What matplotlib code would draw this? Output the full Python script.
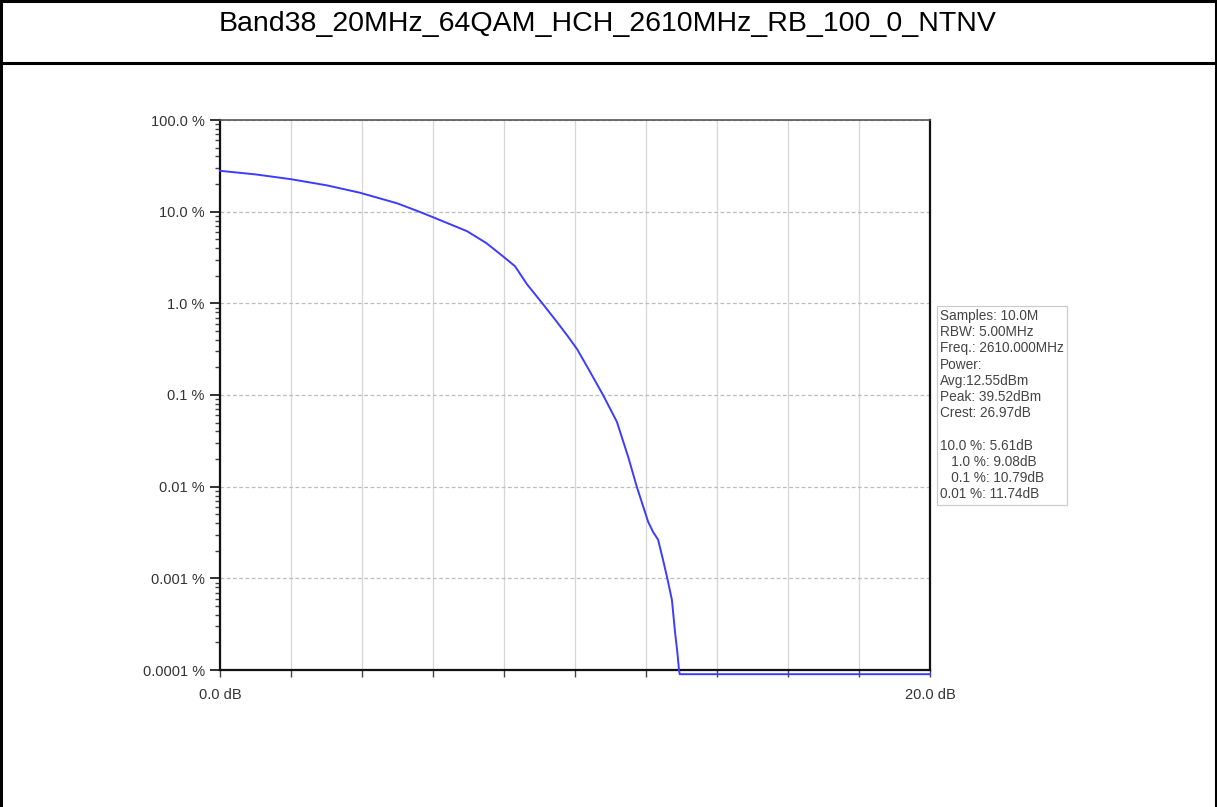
import numpy as np
import matplotlib
matplotlib.use('Agg')
import matplotlib.pyplot as plt
from matplotlib.lines import Line2D
from matplotlib.ticker import FixedLocator, LogLocator, NullFormatter

plt.rcParams['font.family'] = ['Liberation Sans', 'DejaVu Sans']

W, H = 1217, 807

TITLE = "Band38_20MHz_64QAM_HCH_2610MHz_RB_100_0_NTNV"

# CCDF curve: power above average (dB) vs probability (%)
ccdf_db = [0.0, 1.0, 2.0, 3.0, 3.94, 5.0, 5.61, 6.0, 6.96, 7.5, 7.97, 8.31,
           8.65, 9.08, 9.5, 9.8, 10.06, 10.4, 10.79, 11.18, 11.5, 11.74, 12.06,
           12.2, 12.34, 12.48, 12.6, 12.73, 12.82, 12.88, 12.93, 12.95, 20.0]
ccdf_pct = [27.9, 25.5, 22.6, 19.4, 16.1, 12.3, 10.0, 8.7, 6.12, 4.55, 3.26,
            2.54, 1.61, 1.0, 0.62, 0.436, 0.316, 0.186, 0.1, 0.051, 0.021, 0.01,
            0.00414, 0.0032, 0.00264, 0.00159, 0.001, 0.000582, 0.000254,
            0.00016, 0.0001, 0.000090, 0.000090]

y_ticks = [100.0, 10.0, 1.0, 0.1, 0.01, 0.001, 0.0001]
y_labels = ["100.0 %", "10.0 %", "1.0 %", "0.1 %", "0.01 %", "0.001 %", "0.0001 %"]
x_ticks = np.arange(0, 21, 2)
x_labels = ["0.0 dB"] + [""] * 9 + ["20.0 dB"]

info_lines = [
    "Samples: 10.0M",
    "RBW: 5.00MHz",
    "Freq.: 2610.000MHz",
    "Power:",
    "Avg:12.55dBm",
    "Peak: 39.52dBm",
    "Crest: 26.97dB",
    "",
    "10.0 %: 5.61dB",
    "   1.0 %: 9.08dB",
    "   0.1 %: 10.79dB",
    "0.01 %: 11.74dB",
]


def main():
    fig = plt.figure(figsize=(W / 100, H / 100), dpi=100)

    # table frame around the picture
    lk = dict(color='black', lw=2.2, transform=fig.transFigure)
    fig.add_artist(Line2D([1 / W, 1 / W], [0, 1], **lk))
    fig.add_artist(Line2D([1 - 1.5 / W, 1 - 1.5 / W], [0, 1], **lk))
    fig.add_artist(Line2D([0, 1], [1 - 1 / H, 1 - 1 / H], **lk))
    fig.add_artist(Line2D([0, 1], [1 - 63 / H, 1 - 63 / H], **lk))

    fig.text(608 / W, 1 - 24 / H, TITLE, ha='center', va='center',
             fontsize=20.5, color='black')

    ax = fig.add_axes([220 / W, 137 / H, 710 / W, 550 / H])
    ax.set_yscale('log')
    ax.set_xlim(0, 20)
    ax.set_ylim(1e-4, 100)

    ax.plot(ccdf_db, ccdf_pct, color='#3c3cff', lw=1.4, clip_on=False, zorder=5)

    ax.yaxis.set_major_locator(FixedLocator(y_ticks))
    ax.set_yticklabels(y_labels)
    ax.yaxis.set_minor_locator(LogLocator(base=10, subs=np.arange(2, 10)))
    ax.yaxis.set_minor_formatter(NullFormatter())
    ax.set_xticks(x_ticks)
    ax.set_xticklabels(x_labels)

    ax.tick_params(axis='y', which='major', length=7, width=1.3, colors='#222222',
                   labelsize=10.5, labelcolor='#333333', pad=4)
    ax.tick_params(axis='y', which='minor', length=3.5, width=1.0, colors='#444444')
    ax.tick_params(axis='x', length=5, width=1.0, colors='#444444',
                   labelsize=10.5, labelcolor='#333333', pad=8)

    # grid
    ax.grid(True, axis='x', color='#d6d6d6', lw=0.9, ls='-')
    ax.grid(True, axis='y', which='major', color='#bdbdbd', lw=0.9, ls=(0, (3, 2)))

    for s in ['left', 'bottom', 'right']:
        ax.spines[s].set_color('#111111')
        ax.spines[s].set_linewidth(1.6)
    ax.spines['top'].set_color('#555555')
    ax.spines['top'].set_linewidth(1.2)

    # measurement summary box
    fig.text(940 / W, 1 - 309 / H, "\n".join(info_lines), ha='left', va='top',
             fontsize=9.8, color='#444444', linespacing=1.2,
             bbox=dict(boxstyle='square,pad=0.25', fc='white', ec='#cccccc', lw=0.9))

    fig.savefig('out.png', dpi=100)


if __name__ == "__main__":
    main()
